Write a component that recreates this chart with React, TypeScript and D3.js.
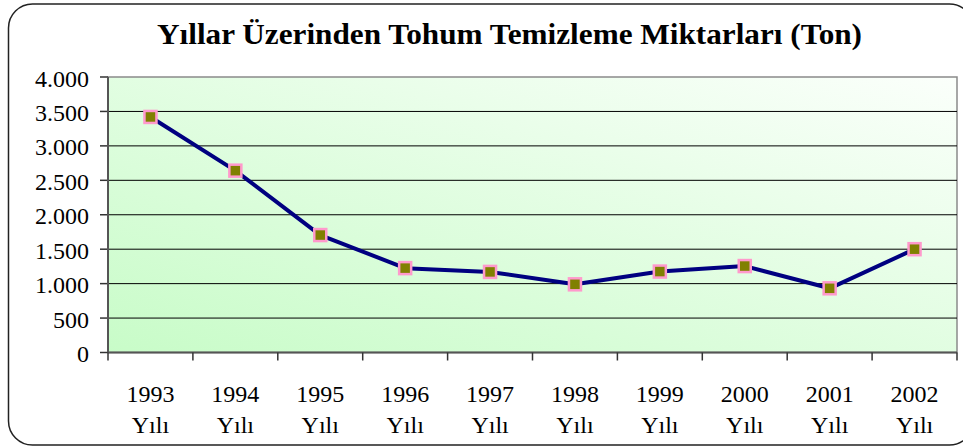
import React from "react";
import * as d3 from "d3";

const years = ["1993", "1994", "1995", "1996", "1997", "1998", "1999", "2000", "2001", "2002"];
const amounts = [3420, 2640, 1705, 1225, 1170, 990, 1175, 1255, 932, 1500];
const yTicks = [0, 500, 1000, 1500, 2000, 2500, 3000, 3500, 4000];
const title = "Yıllar Üzerinden Tohum Temizleme Miktarları (Ton)";

const fmt = (v: number) => (v >= 1000 ? d3.format(",")(v).replace(",", ".") : String(v));

const App = () => {
  const W = 963;
  const H = 446;
  const plot = { left: 108, top: 77, right: 957, bottom: 352.5 };

  const x = d3.scaleBand().domain(years).range([plot.left, plot.right]);
  const y = d3.scaleLinear().domain([0, 4000]).range([plot.bottom, plot.top]);

  const line = d3
    .line<number>()
    .x((d, i) => (x(years[i]) as number) + x.bandwidth() / 2)
    .y((d) => y(d));

  const font = "Liberation Serif";

  return (
    <svg width={W} height={H} style={{ position: "absolute", left: 0, top: 0 }}>
      <defs>
        <linearGradient id="bg" x1="0" y1="1" x2="1" y2="0">
          <stop offset="0" stopColor="#c8fcc8" />
          <stop offset="1" stopColor="#fbfffb" />
        </linearGradient>
      </defs>
      <rect x={0} y={0} width={W} height={H} fill="#fff" />
      <rect x={8.5} y={4} width={965} height={441} rx={24} ry={24} fill="none" stroke="#222" strokeWidth={1.5} />

      <text
        x={157}
        y={44}
        textLength={705}
        lengthAdjust="spacingAndGlyphs"
        style={{ fontFamily: font }}
        fontWeight="bold"
        fontSize={29.5}
      >
        {title}
      </text>

      <rect
        x={plot.left}
        y={plot.top}
        width={plot.right - plot.left}
        height={plot.bottom - plot.top}
        fill="url(#bg)"
        stroke="#8a8a8a"
        strokeWidth={1.5}
      />

      {yTicks.slice(1, -1).map((t) => (
        <line key={t} x1={plot.left} x2={plot.right} y1={y(t)} y2={y(t)} stroke="#000" strokeWidth={1} />
      ))}

      {yTicks.map((t) => (
        <g key={t}>
          <line x1={plot.left - 8} x2={plot.left} y1={y(t)} y2={y(t)} stroke="#333" strokeWidth={1.5} />
          <text x={89} y={y(t)} dy="0.4em" textAnchor="end" style={{ fontFamily: font }} fontSize={24}>
            {fmt(t)}
          </text>
        </g>
      ))}

      <line x1={plot.left} x2={plot.left} y1={plot.top} y2={plot.bottom} stroke="#555" strokeWidth={2} />
      <line x1={plot.left} x2={plot.right} y1={plot.bottom} y2={plot.bottom} stroke="#555" strokeWidth={2} />

      {years.map((yr) => (
        <line
          key={"t" + yr}
          x1={x(yr) as number}
          x2={x(yr) as number}
          y1={plot.bottom}
          y2={plot.bottom + 8}
          stroke="#333"
          strokeWidth={1.5}
        />
      ))}
      <line x1={plot.right} x2={plot.right} y1={plot.bottom} y2={plot.bottom + 8} stroke="#333" strokeWidth={1.5} />

      {years.map((yr) => {
        const cx = (x(yr) as number) + x.bandwidth() / 2;
        return (
          <g key={"l" + yr}>
            <text x={cx} y={402} textAnchor="middle" style={{ fontFamily: font }} fontSize={24}>
              {yr}
            </text>
            <text x={cx} y={433} textAnchor="middle" style={{ fontFamily: font }} fontSize={24}>
              Yılı
            </text>
          </g>
        );
      })}

      <path d={line(amounts) || ""} fill="none" stroke="#000080" strokeWidth={4} strokeLinejoin="round" />

      {amounts.map((v, i) => {
        const cx = (x(years[i]) as number) + x.bandwidth() / 2;
        return (
          <rect
            key={"m" + i}
            x={cx - 6}
            y={y(v) - 6}
            width={12}
            height={12}
            fill="#808000"
            stroke="#ff99cc"
            strokeWidth={2.5}
          />
        );
      })}
    </svg>
  );
};

export default App;
